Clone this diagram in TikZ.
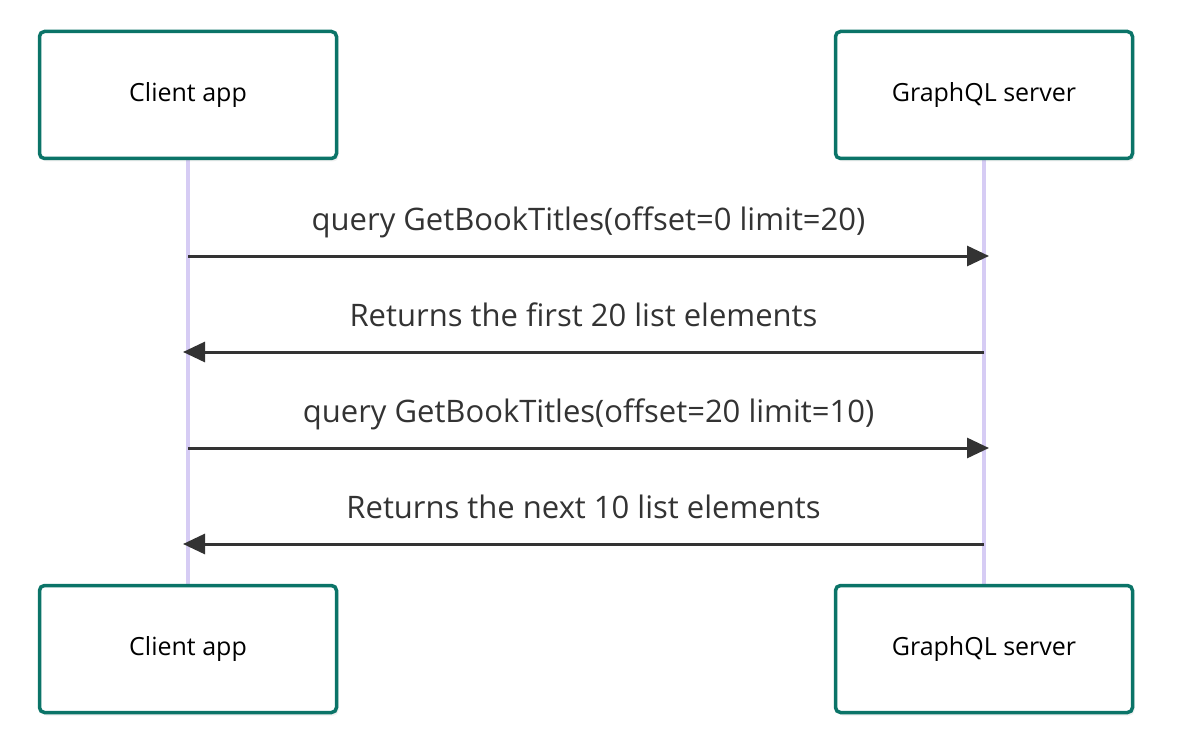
\documentclass[tikz,border=0pt]{standalone}
\usepackage{fontspec}
\setmainfont{Open Sans}
\usetikzlibrary{arrows.meta,shadows}
\definecolor{actorline}{HTML}{0B7468}
\definecolor{lifeline}{HTML}{D6CCF4}
\definecolor{msgline}{HTML}{333333}

\begin{document}
\begin{tikzpicture}[x=1pt, y=-1pt,
                    actor/.style={rectangle, draw=actorline, line width=3.5pt, rounded corners=5pt,
                                  fill=white, minimum width=297pt, minimum height=127pt,
                                  font=\fontsize{25}{30}\selectfont,
                                  drop shadow={shadow xshift=2pt, shadow yshift=-3pt, opacity=0.12}},
                    life/.style={draw=lifeline, line width=3.5pt},
                    msg/.style={draw=msgline, line width=3pt, -{Triangle[length=22pt, width=20pt]}},
                    msglabel/.style={anchor=base, yshift=26pt, font=\fontsize{31}{36}\selectfont, text=msgline}]
  \useasboundingbox (0,0) rectangle (1182,738);
  % lifelines
  \coordinate (clienttop) at (188,160);
  \coordinate (clientbot) at (188,584);
  \coordinate (servertop) at (984,160);
  \coordinate (serverbot) at (984,584);
  \draw[life] (clienttop) -- (clientbot);
  \draw[life] (servertop) -- (serverbot);
  % actors
  \node[actor] (client) at (188,95) {Client app};
  \node[actor] (server) at (984,95) {GraphQL server};
  \node[actor] (client2) at (188,649) {Client app};
  \node[actor] (server2) at (984,649) {GraphQL server};
  % messages
  \coordinate (c1) at (188,256); \coordinate (s1) at (989,256);
  \coordinate (s2) at (984,352); \coordinate (c2) at (183,352);
  \coordinate (c3) at (188,448); \coordinate (s3) at (989,448);
  \coordinate (s4) at (984,544); \coordinate (c4) at (183,544);
  \draw[msg] (c1) -- node[msglabel] {query GetBookTitles(offset=0 limit=20)} (s1);
  \draw[msg] (s2) -- node[msglabel] {Returns the first 20 list elements} (c2);
  \draw[msg] (c3) -- node[msglabel] {query GetBookTitles(offset=20 limit=10)} (s3);
  \draw[msg] (s4) -- node[msglabel] {Returns the next 10 list elements} (c4);
\end{tikzpicture}
\end{document}
